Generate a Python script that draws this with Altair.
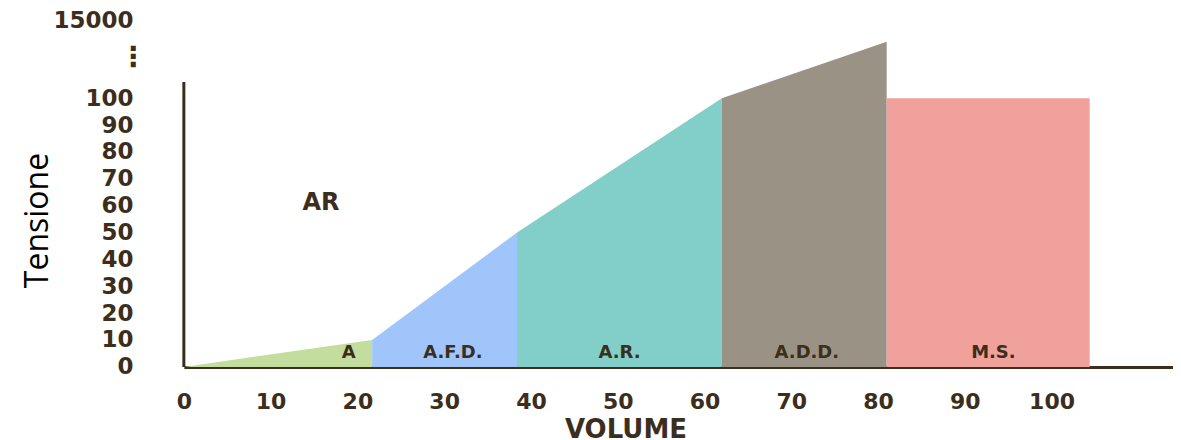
import altair as alt
import pandas as pd

# ---- data ----
segment_names = ["A", "A.F.D.", "A.R.", "A.D.D.", "M.S."]
seg_start = [0, 21.7, 38.4, 62.0, 81.0]
seg_end = [21.7, 38.4, 62.0, 81.0, 104.4]
top_start = [0, 10, 50, 100, 100]
top_end = [10, 50, 100, 121, 100]
seg_colors = ["#c3dd9e", "#9fc5fb", "#81cfc8", "#9a9385", "#f0a19b"]
label_x = [19.0, 31.0, 50.2, 71.8, 93.3]
label_y = [5, 5, 5, 5, 5]

x_ticks = [0, 10, 20, 30, 40, 50, 60, 70, 80, 90, 100]
y_ticks = [0, 10, 20, 30, 40, 50, 60, 70, 80, 90, 100, 115, 129]
y_tick_labels = ["0", "10", "20", "30", "40", "50", "60", "70", "80", "90", "100", "⋮", "15000"]
break_tick = 115
y_axis_top = 106

ar_text = ["AR"]
ar_x = [15.8]
ar_y = [61]

INK = "#3b2e1c"

rows = []
for n, xs, xe, ts, te in zip(segment_names, seg_start, seg_end, top_start, top_end):
    rows.append({"seg": n, "x": xs, "top": ts, "base": 0})
    rows.append({"seg": n, "x": xe, "top": te, "base": 0})
area_df = pd.DataFrame(rows)
lab_df = pd.DataFrame({"seg": segment_names, "x": label_x, "y": label_y})
ar_df = pd.DataFrame({"t": ar_text, "x": ar_x, "y": ar_y})
yline_df = pd.DataFrame({"x": [0], "y0": [0], "y1": [y_axis_top]})

label_expr = " : ".join(
    [f"datum.value == {v} ? '{l}'" for v, l in zip(y_ticks, y_tick_labels)]
) + " : datum.label"

xscale = alt.Scale(domain=[0, 114], nice=False, zero=False)
yscale = alt.Scale(domain=[0, 132], nice=False)

x_axis = alt.Axis(values=x_ticks, title="VOLUME", grid=False, ticks=False,
                  domain=True, domainColor=INK, domainWidth=3,
                  labelFont="DejaVu Sans", labelFontWeight="bold",
                  labelFontSize=22, labelColor=INK, labelPadding=25,
                  labelBaseline="top", labelFlush=False, labelOverlap=False,
                  titleFont="DejaVu Sans", titleFontWeight="bold",
                  titleFontSize=26, titleColor=INK,
                  titleX=442, titleY=50, titleBaseline="top",
                  titleAlign="center")
y_axis = alt.Axis(values=y_ticks, labelExpr=label_expr, title="Tensione",
                  grid=False, ticks=False, domain=False,
                  labelFont="DejaVu Sans", labelFontWeight="bold",
                  labelFontSize={"condition": {"test": f"datum.value == {break_tick}", "value": 28}, "value": 23},
                  labelAlign={"condition": {"test": f"datum.value == {break_tick}", "value": "center"}, "value": "right"},
                  labelColor=INK, labelPadding=51,
                  labelOverlap=False, labelFlush=False, labelBound=False,
                  titleFont="Open Sans", titleFontWeight="normal",
                  titleFontSize=32, titleColor="black",
                  titleX=-146, titleY=208, titleAngle=270,
                  titleAlign="center", titleBaseline="middle")

areas = alt.Chart(area_df).mark_area(opacity=1).encode(
    x=alt.X("x:Q", scale=xscale, axis=x_axis, title="VOLUME"),
    y=alt.Y("top:Q", scale=yscale, stack=None, axis=y_axis, title="Tensione"),
    y2="base:Q",
    color=alt.Color("seg:N", scale=alt.Scale(domain=segment_names, range=seg_colors),
                    legend=None),
)

yline = alt.Chart(yline_df).mark_rule(color=INK, strokeWidth=3).encode(
    x=alt.X("x:Q", scale=xscale, axis=x_axis, title="VOLUME"),
    y=alt.Y("y0:Q", scale=yscale, axis=y_axis, title="Tensione"),
    y2="y1:Q",
)

labels = alt.Chart(lab_df).mark_text(
    font="DejaVu Sans", fontWeight="bold", fontSize=18, color=INK,
    align="center", baseline="middle"
).encode(
    x=alt.X("x:Q", scale=xscale, axis=x_axis, title="VOLUME"),
    y=alt.Y("y:Q", scale=yscale, axis=y_axis, title="Tensione"),
    text="seg:N",
)

ar = alt.Chart(ar_df).mark_text(
    font="DejaVu Sans", fontWeight="bold", fontSize=24, color=INK,
    align="center", baseline="middle"
).encode(
    x=alt.X("x:Q", scale=xscale, axis=x_axis, title="VOLUME"),
    y=alt.Y("y:Q", scale=yscale, axis=y_axis, title="Tensione"),
    text="t:N",
)

chart = alt.layer(areas, yline, labels, ar).properties(
    width=990, height=355,
    autosize=alt.AutoSizeParams(type="none"),
    padding={"left": 176, "top": 4, "right": 0, "bottom": 72},
).configure_view(stroke=None).configure_axis(labelOverlap=False)

chart.save("out.html", embed_options={"renderer": "svg", "actions": False})
